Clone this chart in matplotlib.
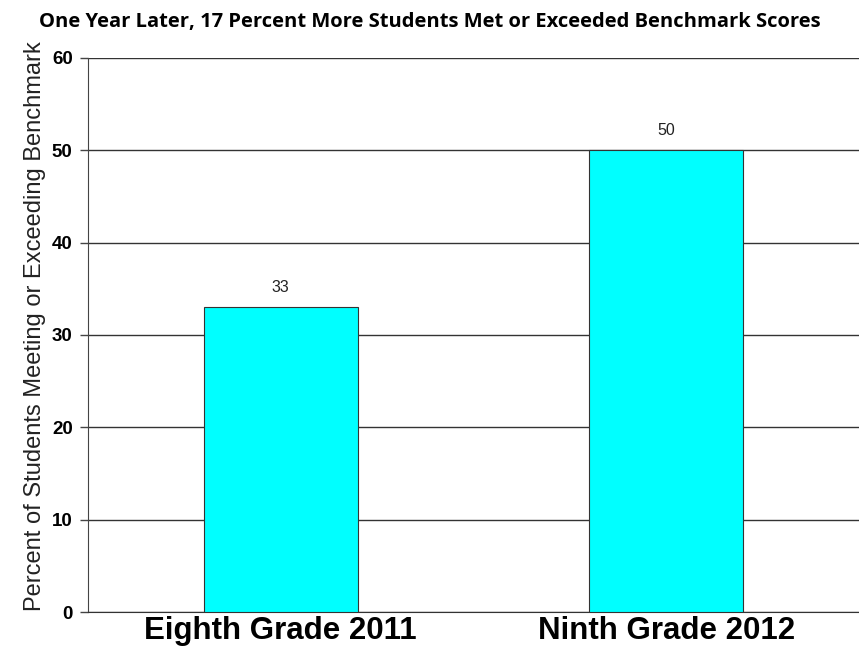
import matplotlib.pyplot as plt

grades = ['Eighth Grade 2011', 'Ninth Grade 2012']
pct_meeting = [33, 50]

fig = plt.figure(figsize=(8.59, 6.56), dpi=100)
ax = fig.add_axes([0.1024, 0.067, 0.8976, 0.845])

xs = range(len(grades))
bars = ax.bar(xs, pct_meeting, width=0.4, color='#00FFFF', edgecolor='#333333',
              linewidth=0.8, zorder=3)
for b, v in zip(bars, pct_meeting):
    ax.text(b.get_x() + b.get_width() / 2, v + 1.3, str(v), ha='center', va='bottom',
            fontsize=11.5, color='#222222', family='Liberation Sans')

ax.set_xlim(-0.5, 1.5)
ax.set_ylim(0, 60)
ax.set_yticks(range(0, 61, 10))
ax.yaxis.grid(True, color='#333333', linewidth=1.0, zorder=0)
ax.set_xticks(list(xs))
ax.set_xticklabels(grades, fontsize=22.5, fontweight='bold', family='Liberation Sans')
ax.tick_params(axis='x', length=0, pad=3)
ax.tick_params(axis='y', length=6, width=1, color='#444444', labelsize=13.5, pad=5)
for lbl in ax.get_yticklabels():
    lbl.set_fontweight('bold')
    lbl.set_family('Liberation Sans')

for s in ['top', 'right']:
    ax.spines[s].set_visible(False)
ax.spines['left'].set_color('#444444')
ax.spines['bottom'].set_color('#333333')

ax.set_ylabel('Percent of Students Meeting or Exceeding Benchmark', fontsize=17,
              family='Liberation Sans', color='#222222', labelpad=4)
ax.yaxis.label.set_y(0.516)

fig.text(0.5, 0.967, 'One Year Later, 17 Percent More Students Met or Exceeded Benchmark Scores',
         ha='center', va='center', fontsize=14.5, fontweight='bold', family='Open Sans')

fig.savefig('out.png', dpi=100)
